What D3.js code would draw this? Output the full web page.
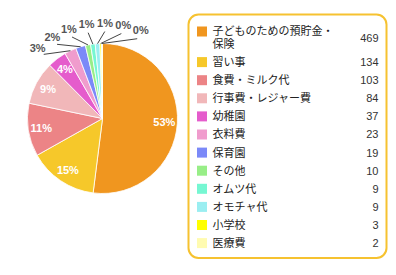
<!DOCTYPE html>
<html>
<head>
<meta charset="utf-8">
<script src="https://cdn.jsdelivr.net/npm/d3@7"></script>
<style>
  body { margin: 0; background: #fff; }
</style>
</head>
<body>
<div id="chart"></div>
<script>
const categories = [
  "子どものための預貯金・\n保険", "習い事", "食費・ミルク代", "行事費・レジャー費",
  "幼稚園", "衣料費", "保育園", "その他", "オムツ代", "オモチャ代", "小学校", "医療費"
];
const values = [469, 134, 103, 84, 37, 23, 19, 10, 9, 9, 3, 2];
const colors = [
  "#f0961f", "#f6c82a", "#ec8486", "#f1b7b9", "#e55ccc", "#f09ccd",
  "#7b89f8", "#98ee87", "#76f7d2", "#9aeef1", "#ffff00", "#fffbb0"
];

const width = 396;
const height = 275;
const cx = 102.5, cy = 118.5, radius = 75;

const svg = d3.select("#chart").append("svg")
  .attr("width", width)
  .attr("height", height);

const total = d3.sum(values);

// rounded percents, fix the biggest so it sums to 100
const pcts = values.map(v => Math.round(v / total * 100));
const maxIdx = d3.maxIndex(values);
pcts[maxIdx] += 100 - d3.sum(pcts);

const data = values.map((v, i) => ({ name: categories[i], value: v, color: colors[i], pct: pcts[i] }));

const pie = d3.pie().value(d => d.value).sort(null);
const arcs = pie(data);
const arc = d3.arc().innerRadius(0).outerRadius(radius);

const g = svg.append("g").attr("transform", `translate(${cx},${cy})`);

g.selectAll("path.slice")
  .data(arcs)
  .enter().append("path")
  .attr("class", "slice")
  .attr("d", arc)
  .attr("fill", d => d.data.color)
  .attr("stroke", "#fff")
  .attr("stroke-width", 0.8);

const mid = d => (d.startAngle + d.endAngle) / 2;

// labels inside the bigger slices
const inside = arcs.filter(d => d.data.value / total >= 0.035);
const labelArc = d3.arc().innerRadius(62).outerRadius(62);
g.selectAll("text.inner")
  .data(inside)
  .enter().append("text")
  .attr("class", "inner")
  .attr("transform", d => `translate(${labelArc.centroid(d)})`)
  .attr("text-anchor", "middle")
  .attr("dy", "0.36em")
  .style("font-family", "'Liberation Sans', Arial, sans-serif")
  .style("font-size", "11px")
  .style("font-weight", "bold")
  .style("fill", "#fff")
  .text(d => d.data.pct + "%");

// small slices: labels outside, spread around the top
const outside = arcs.filter(d => d.data.value / total < 0.035);
const step = 11 * Math.PI / 180;
const meanAngle = d3.mean(outside, d => mid(d));
outside.forEach((d, i) => {
  d.labelAngle = meanAngle + (i - (outside.length - 1) / 2) * step;
});
const pt = (a, r) => [r * Math.sin(a), -r * Math.cos(a)];

g.selectAll("polyline.leader")
  .data(outside)
  .enter().append("polyline")
  .attr("class", "leader")
  .attr("points", d => [pt(mid(d), radius), pt(d.labelAngle, 87)].map(p => p.join(",")).join(" "))
  .attr("fill", "none")
  .attr("stroke", "#444")
  .attr("stroke-width", 1);

g.selectAll("text.outer")
  .data(outside)
  .enter().append("text")
  .attr("class", "outer")
  .attr("transform", d => `translate(${pt(d.labelAngle, 96)})`)
  .attr("text-anchor", "middle")
  .attr("dy", "0.36em")
  .style("font-family", "'Liberation Sans', Arial, sans-serif")
  .style("font-size", "11px")
  .style("font-weight", "bold")
  .style("fill", "#555")
  .text(d => d.data.pct + "%");

// legend
const legendX = 188.5, legendY = 14.5, legendW = 198, legendH = 243.5;
svg.append("rect")
  .attr("x", legendX)
  .attr("y", legendY)
  .attr("width", legendW)
  .attr("height", legendH)
  .attr("rx", 10)
  .attr("fill", "#fff")
  .attr("stroke", "#f6c230")
  .attr("stroke-width", 2);

const rowGap = 18.1, lineGap = 12.5;
let y = 31.5;
data.forEach(d => {
  d.lines = d.name.split("\n");
  d.y = y;
  y += rowGap + (d.lines.length - 1) * lineGap;
});

const legend = svg.append("g");
const rows = legend.selectAll("g.row")
  .data(data)
  .enter().append("g")
  .attr("class", "row")
  .attr("transform", d => `translate(0,${d.y})`);

rows.append("rect")
  .attr("x", 197)
  .attr("y", -5)
  .attr("width", 10)
  .attr("height", 10)
  .attr("fill", d => d.color);

rows.append("text")
  .style("font-family", "'Noto Sans CJK JP', sans-serif")
  .style("font-size", "11px")
  .style("fill", "#222")
  .selectAll("tspan")
  .data(d => d.lines)
  .enter().append("tspan")
  .attr("x", 212.5)
  .attr("y", (l, i) => i * lineGap)
  .attr("dy", "0.36em")
  .text(l => l);

rows.append("text")
  .attr("x", 378.5)
  .attr("y", d => (d.lines.length - 1) * lineGap / 2)
  .attr("dy", "0.36em")
  .attr("text-anchor", "end")
  .style("font-family", "'Liberation Sans', Arial, sans-serif")
  .style("font-size", "11px")
  .style("fill", "#333")
  .text(d => d.value);
</script>
</body>
</html>
